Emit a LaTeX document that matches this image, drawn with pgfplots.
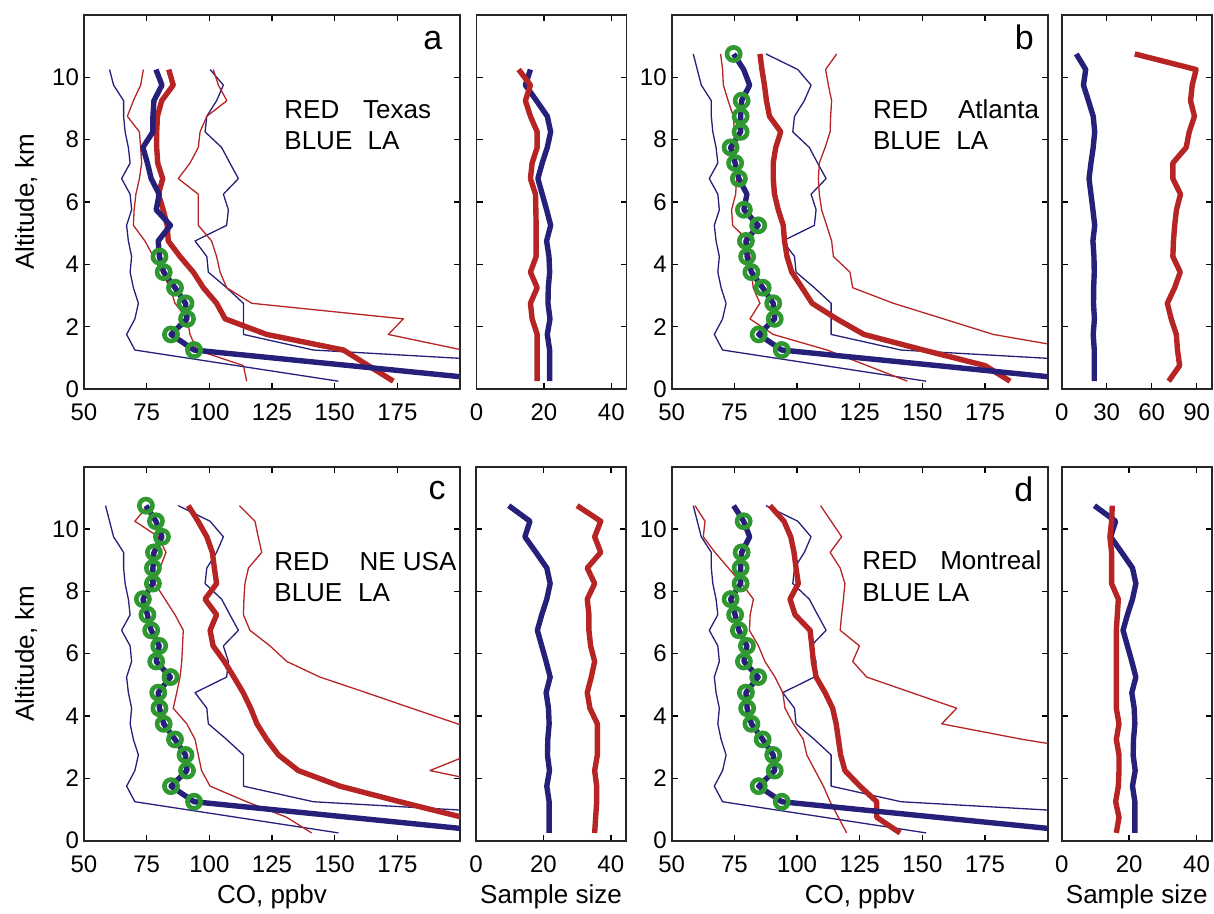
\documentclass[border=0pt]{standalone}
\usepackage{fontspec}
\setmainfont{Liberation Sans}
\usepackage{pgfplots}
\pgfplotsset{compat=1.18}
\usepackage{pgfplotstable}
\definecolor{cblue}{RGB}{38,32,122}
\definecolor{cred}{RGB}{182,36,36}
\definecolor{cgreen}{RGB}{48,152,48}

% LA (common to all panels): median, low and high envelopes, sample size
\pgfplotstableread{
alt   med   lo    hi    n
10.75 74.7  58.6  87.6  9.7
10.25 78.7  60.2  100.3 16
9.75  81.1  61.8  105.6 14.5
9.25  77.9  65.8  102.9 17.8
8.75  77.5  65.8  99.0  21
8.25  77.5  66.4  98.3  22
7.75  73.5  67.7  104.9 21
7.25  75.3  68.4  108.2 19.5
6.75  76.8  65.0  111.6 18.2
6.25  80.0  68.4  105.6 19.5
5.75  78.8  69.0  107.6 20.8
5.25  84.5  67.0  106.9 22
4.75  79.6  67.7  94.3  20.8
4.25  80.1  69.0  99.0  21.5
3.75  81.8  68.4  99.6  21.7
3.25  86.3  69.7  106.9 21.3
2.75  90.5  71.7  113.6 21.2
2.25  91.1  70.3  113.6 21.8
1.75  84.7  67.0  113.6 21
1.25  93.9  70.3  141.5 21.7
0.25  218   151.5 361   21.7
}\LA

\tikzset{
  ann/.style={anchor=base west, inner sep=0pt, font=\fontsize{13}{15}\selectfont},
  lett/.style={anchor=base west, inner sep=0pt, font=\fontsize{17}{19}\selectfont},
}
\pgfplotsset{
  base/.style={scale only axis, height=187pt, ymin=0, ymax=12, ytick={0,2,...,10},
    tick align=inside, major tick length=3pt,
    axis line style={line width=0.9pt, draw=black!85},
    every tick/.style={black, line width=0.7pt},
    tick label style={font=\fontsize{12}{14}\selectfont},
    /pgf/number format/assume math mode=true,
    xticklabel style={anchor=base, yshift=-15.8pt},
    yticklabel style={xshift=1pt},
    label style={font=\fontsize{13}{15}\selectfont},
    xlabel style={at={(axis description cs:0.5,-0.169)}, anchor=base},
    ylabel style={at={(axis description cs:-0.154,0.5)}, anchor=center},
    clip=true},
  mainax/.style={base, width=188pt, xmin=50, xmax=200, xtick={50,75,...,175}},
  sampax/.style={base, width=75pt, yticklabels={}},
  thinl/.style={line width=0.65pt, no marks, line join=round},
  thk/.style={line width=2.7pt, no marks, line join=round},
  circ/.style={only marks, mark=o, mark size=3.3pt, mark options={line width=2.3pt, draw=cgreen}},
}

\begin{document}
\begin{tikzpicture}
%================ panel a =================
\begin{axis}[mainax, at={(42pt,262.5pt)}, anchor=south west, ylabel={Altitude, km}]
\addplot[thinl, cblue] table[x=lo, y=alt, skip coords between index={0}{1}] {\LA};
\addplot[thinl, cblue] table[x=hi, y=alt, skip coords between index={0}{1}] {\LA};
\addplot[thinl, cred] coordinates {(73.7,10.25)(72.6,9.75)(69.7,9.25)(67.3,8.75)(72.1,8.25)(72.6,7.75)(73,7.25)(72.1,6.75)(70.7,6.25)(70,5.75)(69.7,5.25)(74.3,4.75)(77.7,4.25)(81,3.75)(84.3,3.25)(86.3,2.75)(91.2,2.25)(92.3,1.75)(95,1.25)(113.6,0.75)(114.9,0.25)};
\addplot[thinl, cred] coordinates {(101.6,10.25)(103.6,9.75)(107,9.25)(99,8.75)(96.3,8.25)(95.6,7.75)(92.3,7.25)(87.6,6.75)(95.6,6.25)(95.6,5.75)(95.6,5.25)(100.9,4.75)(102.9,4.25)(104.3,3.75)(106.9,3.25)(116.9,2.75)(177.4,2.25)(171.4,1.75)(201,1.25)};
\addplot[thk, cred] coordinates {(83.8,10.25)(85.6,9.75)(81,9.25)(79.3,8.75)(79,8.25)(79,7.75)(79.4,7.25)(81.4,6.75)(79.7,6.25)(81.6,5.75)(83.2,5.25)(83.6,4.75)(88.3,4.25)(93.6,3.75)(97.6,3.25)(102.9,2.75)(106.3,2.25)(122.9,1.75)(153.5,1.25)(173.4,0.25)};
\addplot[thk, cblue] table[x=med, y=alt, skip coords between index={0}{1}] {\LA};
\addplot[circ] coordinates {(80.1,4.25)(81.8,3.75)(86.3,3.25)(90.5,2.75)(91.1,2.25)(84.7,1.75)(93.9,1.25)};
\node[ann] at (axis cs:129.8,8.69) {RED};
\node[ann] at (axis cs:161.2,8.69) {Texas};
\node[ann] at (axis cs:129.8,7.67) {BLUE};
\node[ann] at (axis cs:163,7.67) {LA};
\node[lett] at (axis cs:185.2,10.88) {a};
\end{axis}
\begin{axis}[sampax, at={(238.25pt,262.5pt)}, anchor=south west, xmin=0, xmax=44.5, xtick={0,20,40}]
\addplot[thk, cblue] table[x=n, y=alt, skip coords between index={0}{1}] {\LA};
\addplot[thk, cred] coordinates {(12.5,10.25)(16,9.75)(14.5,9.25)(16,8.75)(18,8.25)(18,7.75)(16.5,7.25)(16,6.75)(17.5,6.25)(17.6,5.75)(17.7,5.25)(17.7,4.75)(17.7,4.25)(16,3.75)(18,3.25)(16,2.75)(16.5,2.25)(18,1.75)(18,1.25)(18,0.25)};
\end{axis}
%================ panel b =================
\begin{axis}[mainax, at={(335.85pt,262.5pt)}, anchor=south west]
\addplot[thinl, cblue] table[x=lo, y=alt] {\LA};
\addplot[thinl, cblue] table[x=hi, y=alt] {\LA};
\addplot[thinl, cred] coordinates {(69.5,10.75)(70.3,10.25)(70.6,9.75)(72.5,9.25)(74.6,8.75)(75,8.25)(75.3,7.75)(75.6,7.25)(75.9,6.75)(75.5,6.25)(73.9,5.75)(74.3,5.25)(80.6,4.75)(81.2,4.25)(81.9,3.75)(82.5,3.25)(85.2,2.75)(81.2,2.25)(90.5,1.75)(112,1.25)(128,0.75)(144,0.25)};
\addplot[thinl, cred] coordinates {(115.8,10.75)(111.4,10.25)(112.5,9.75)(113.8,9.25)(113.4,8.75)(113.2,8.25)(111.2,7.75)(108.9,7.25)(108.5,6.75)(108.9,6.25)(109.8,5.75)(111.8,5.25)(113.8,4.75)(114.5,4.25)(121.1,3.75)(122.2,3.25)(138.4,2.75)(158.4,2.25)(178.3,1.75)(214,1.25)};
\addplot[thk, cred] coordinates {(85.2,10.75)(86,10.25)(87,9.75)(87.8,9.25)(89,8.75)(93.5,8.25)(91.5,7.75)(90.5,7.25)(90.5,6.75)(91,6.25)(92.5,5.75)(94.5,5.25)(95,4.75)(96,4.25)(97.9,3.75)(102,3.25)(106,2.75)(115.8,2.25)(126.7,1.75)(150.4,1.25)(175,0.75)(185,0.25)};
\addplot[thk, cblue] table[x=med, y=alt] {\LA};
\addplot[circ] coordinates {(74.7,10.75)(77.9,9.25)(77.5,8.75)(77.5,8.25)(73.5,7.75)(75.3,7.25)(76.8,6.75)(78.8,5.75)(84.5,5.25)(79.6,4.75)(80.1,4.25)(81.8,3.75)(86.3,3.25)(90.5,2.75)(91.1,2.25)(84.7,1.75)(93.9,1.25)};
\node[ann] at (axis cs:130.2,8.69) {RED};
\node[ann] at (axis cs:164.1,8.69) {Atlanta};
\node[ann] at (axis cs:130.2,7.67) {BLUE};
\node[ann] at (axis cs:163.4,7.67) {LA};
\node[lett] at (axis cs:186.7,10.9) {b};
\end{axis}
\begin{axis}[sampax, at={(530.85pt,262.5pt)}, anchor=south west, xmin=0, xmax=100, xtick={0,30,60,90}]
\addplot[thk, cblue] table[x=n, y=alt] {\LA};
\addplot[thk, cred] coordinates {(48.7,10.75)(89.6,10.25)(87,9.75)(85.9,9.25)(88.5,8.75)(85,8.25)(83,7.75)(74.1,7.25)(74.1,6.75)(79.2,6.25)(76.5,5.75)(75.3,5.25)(74.5,4.75)(74.1,4.25)(79,3.75)(75.3,3.25)(70.4,2.75)(73,2.25)(76.4,1.75)(77.2,1.25)(78.6,0.75)(71.3,0.25)};
\end{axis}
%================ panel c =================
\begin{axis}[mainax, at={(42pt,36.65pt)}, anchor=south west, ylabel={Altitude, km}, xlabel={CO, ppbv}]
\addplot[thinl, cblue] table[x=lo, y=alt] {\LA};
\addplot[thinl, cblue] table[x=hi, y=alt] {\LA};
\addplot[thinl, cred] coordinates {(75.5,10.75)(70.3,10.25)(79.7,9.75)(82.7,9.25)(80.3,8.75)(78.3,8.25)(82.3,7.75)(86.3,7.25)(89.6,6.75)(89.3,6.25)(89,5.75)(88.3,5.25)(87,4.75)(85.6,4.25)(91,3.75)(94.3,3.25)(95.6,2.75)(96.9,2.25)(100.3,1.75)(114.9,1.25)(130.9,0.75)(140.8,0.25)};
\addplot[thinl, cred] coordinates {(112,10.75)(118.2,10.25)(119.5,9.75)(120.9,9.25)(115.6,8.75)(114.2,8.25)(113.8,7.75)(113.6,7.25)(116.2,6.75)(124.2,6.25)(130.9,5.75)(144.1,5.25)(162.6,4.75)(180.7,4.25)(199,3.75)(215,3.25)(203.4,2.75)(188,2.25)(218,1.75)};
\addplot[thk, cred] coordinates {(91.6,10.75)(95.5,10.25)(99,9.75)(101.2,9.25)(102,8.75)(102.9,8.25)(98.3,7.75)(102.9,7.25)(100.3,6.75)(101.5,6.25)(106,5.75)(109.8,5.25)(113.5,4.75)(116.5,4.25)(119,3.75)(122.9,3.25)(127.6,2.75)(135.5,2.25)(152.1,1.75)(176,1.25)(201,0.75)(240,0.25)};
\addplot[thk, cblue] table[x=med, y=alt] {\LA};
\addplot[circ] table[x=med, y=alt, skip coords between index={20}{21}] {\LA};
\node[ann] at (axis cs:125.8,8.68) {RED};
\node[ann] at (axis cs:159.8,8.68) {NE USA};
\node[ann] at (axis cs:125.8,7.67) {BLUE};
\node[ann] at (axis cs:159.2,7.67) {LA};
\node[lett] at (axis cs:187.3,10.95) {c};
\end{axis}
\begin{axis}[sampax, at={(238pt,36.65pt)}, anchor=south west, xmin=0, xmax=44.5, xtick={0,20,40}, xlabel={Sample size}]
\addplot[thk, cblue] table[x=n, y=alt] {\LA};
\addplot[thk, cred] coordinates {(30,10.75)(37,10.25)(35.2,9.75)(37,9.25)(33,8.75)(35.2,8.25)(33,7.75)(33.5,7.25)(33.5,6.75)(34,6.25)(35.2,5.75)(34.2,5.25)(33,4.75)(33.8,4.25)(36,3.75)(36,3.25)(36,2.75)(35.2,2.25)(35.8,1.75)(35.8,1.25)(35.2,0.25)};
\end{axis}
%================ panel d =================
\begin{axis}[mainax, at={(335.85pt,36.65pt)}, anchor=south west, xlabel={CO, ppbv}]
\addplot[thinl, cblue] table[x=lo, y=alt] {\LA};
\addplot[thinl, cblue] table[x=hi, y=alt] {\LA};
\addplot[thinl, cred] coordinates {(59.3,10.75)(63.3,10.25)(62.6,9.75)(67.3,9.25)(72.6,8.75)(77.9,8.25)(82.6,7.75)(81.3,7.25)(81,6.75)(84.6,6.25)(87.2,5.75)(91.2,5.25)(94.3,4.75)(95.2,4.25)(98.5,3.75)(102.5,3.25)(103.9,2.75)(107.2,2.25)(110.5,1.75)(113.2,1.25)(116.5,0.75)(119.8,0.25)};
\addplot[thinl, cred] coordinates {(109.4,10.75)(113.6,10.25)(117.8,9.75)(113.2,9.25)(117.2,8.75)(119.1,8.25)(118.5,7.75)(117.8,7.25)(117.2,6.75)(124.9,6.25)(122.2,5.75)(127.8,5.25)(145.7,4.75)(163.7,4.25)(157.7,3.75)(190,3.25)(229,2.75)};
\addplot[thk, cred] coordinates {(89.2,10.75)(94.8,10.25)(97.5,9.75)(98.8,9.25)(99.6,8.75)(100.5,8.25)(97.2,7.75)(99.2,7.25)(105.2,6.75)(105.9,6.25)(106.5,5.75)(107.6,5.25)(111.2,4.75)(114.2,4.25)(115.6,3.75)(116.5,3.25)(117.4,2.75)(119.1,2.25)(125.1,1.75)(131.8,1.25)(131.8,0.75)(141.1,0.25)};
\addplot[thk, cblue] table[x=med, y=alt] {\LA};
\addplot[circ] coordinates {(78.7,10.25)(77.9,9.25)(77.5,8.75)(77.5,8.25)(73.5,7.75)(75.3,7.25)(76.8,6.75)(80,6.25)(78.8,5.75)(84.5,5.25)(79.6,4.75)(80.1,4.25)(81.8,3.75)(86.3,3.25)(90.5,2.75)(91.1,2.25)(84.7,1.75)(93.9,1.25)};
\node[ann] at (axis cs:125.9,8.71) {RED};
\node[ann] at (axis cs:157,8.71) {Montreal};
\node[ann] at (axis cs:125.9,7.67) {BLUE LA};
\node[lett] at (axis cs:186.5,10.88) {d};
\end{axis}
\begin{axis}[sampax, at={(530.85pt,36.65pt)}, anchor=south west, xmin=0, xmax=44.5, xtick={0,20,40}, xlabel={Sample size}]
\addplot[thk, cblue] table[x=n, y=alt] {\LA};
\addplot[thk, cred] coordinates {(15,10.75)(14.8,10.25)(14.3,9.75)(14.8,9.25)(14.8,8.75)(14.8,8.25)(16.8,7.75)(16.5,7.25)(16.2,6.75)(16.2,6.25)(16.2,5.75)(16.2,5.25)(16.2,4.75)(16.2,4.25)(17,3.75)(16.2,3.25)(17,2.75)(17,2.25)(16.8,1.75)(16,1.25)(17,0.75)(16.2,0.25)};
\end{axis}
\pgfresetboundingbox
\useasboundingbox (0,0) rectangle (607pt,457pt);
\end{tikzpicture}
\end{document}
